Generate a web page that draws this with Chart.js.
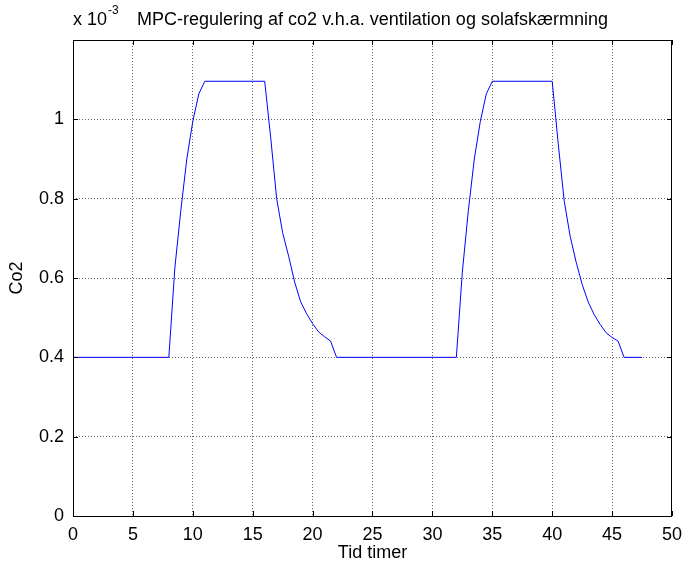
<!DOCTYPE html>
<html>
<head>
<meta charset="utf-8">
<script src="https://cdn.jsdelivr.net/npm/chart.js@4.4.0/dist/chart.umd.min.js"></script>
<style>
  html, body { margin: 0; padding: 0; background: #fff; }
  #wrap { width: 690px; height: 569px; position: relative; }
</style>
</head>
<body>
<div id="wrap"><canvas id="grafico" width="690" height="569"></canvas></div>
<script>
// tid i timer og co2-niveau (enhed: 10^-3)
const timer = [0, 8, 8.5, 9, 9.5, 10, 10.5, 11, 16, 16.5, 17, 17.5, 18, 18.5, 19, 19.5, 20, 20.5, 21, 21.5, 22,
               32, 32.5, 33, 33.5, 34, 34.5, 35, 40, 40.5, 41, 41.5, 42, 42.5, 43, 43.5, 44, 44.5, 45, 45.5, 46, 47.5];
const co2 = [0.400, 0.400, 0.625, 0.770, 0.900, 0.995, 1.064, 1.096, 1.096, 0.955, 0.800, 0.714, 0.655, 0.590, 0.540, 0.510, 0.485, 0.464, 0.452, 0.441, 0.400,
             0.400, 0.615, 0.770, 0.900, 0.995, 1.064, 1.096, 1.096, 0.940, 0.795, 0.705, 0.640, 0.584, 0.540, 0.508, 0.483, 0.462, 0.450, 0.441, 0.400, 0.400];
const xTicks = [0, 5, 10, 15, 20, 25, 30, 35, 40, 45, 50];
const yTicks = [0, 0.2, 0.4, 0.6, 0.8, 1];

const titel = 'MPC-regulering af co2 v.h.a. ventilation og solafskærmning';
const skrift = '"Liberation Sans", Arial, sans-serif';

const punkter = timer.map(function (t, i) { return { x: t, y: co2[i] * 1e-3 }; });

// ramme, indadvendte ticks, titel og eksponent
const rammePlugin = {
    id: 'ramme',
    afterDraw: function (chart) {
        const ctx = chart.ctx;
        const a = chart.chartArea;
        const sx = chart.scales.x;
        const sy = chart.scales.y;
        ctx.save();
        ctx.strokeStyle = '#000';
        ctx.lineWidth = 1;
        ctx.beginPath();
        xTicks.forEach(function (v) {
            const px = Math.round(sx.getPixelForValue(v)) + 0.5;
            ctx.moveTo(px, a.bottom); ctx.lineTo(px, a.bottom - 5);
            ctx.moveTo(px, a.top); ctx.lineTo(px, a.top + 5);
        });
        yTicks.forEach(function (v) {
            const py = Math.round(sy.getPixelForValue(v * 1e-3)) + 0.5;
            ctx.moveTo(a.left, py); ctx.lineTo(a.left + 5, py);
            ctx.moveTo(a.right, py); ctx.lineTo(a.right - 5, py);
        });
        ctx.stroke();
        ctx.strokeRect(Math.round(a.left) + 0.5, Math.round(a.top) + 0.5,
                       Math.round(a.right - a.left) - 1, Math.round(a.bottom - a.top));

        ctx.fillStyle = '#000';
        ctx.textBaseline = 'alphabetic';
        ctx.textAlign = 'center';
        ctx.font = '18px ' + skrift;
        ctx.fillText(titel, (a.left + a.right) / 2, 25);

        ctx.textAlign = 'left';
        ctx.font = '18px ' + skrift;
        ctx.fillText('x 10', a.left, 25);
        const w = ctx.measureText('x 10').width;
        ctx.font = '12px ' + skrift;
        ctx.fillText('-3', a.left + w + 1, 14);
        ctx.restore();
    }
};

const ctx = document.getElementById('grafico').getContext('2d');
const myChart = new Chart(ctx, {
    type: 'line',
    data: {
        datasets: [{
            data: punkter,
            borderColor: '#0000ff',
            borderWidth: 1,
            pointRadius: 0,
            tension: 0,
            fill: false
        }]
    },
    options: {
        responsive: false,
        animation: false,
        layout: { padding: { top: 40, right: 10, left: 0, bottom: 0 } },
        plugins: { legend: { display: false }, tooltip: { enabled: false } },
        scales: {
            x: {
                type: 'linear',
                min: 0,
                max: 50,
                afterFit: function (s) { s.height = 53; },
                afterBuildTicks: function (s) { s.ticks = xTicks.map(function (v) { return { value: v }; }); },
                grid: { color: '#666', borderDash: [1, 2], drawTicks: false },
                border: { display: false, dash: [1, 2] },
                ticks: { color: '#000', font: { family: skrift, size: 18 }, padding: 8, maxRotation: 0 },
                title: { display: true, text: 'Tid timer', color: '#000', font: { family: skrift, size: 18 }, padding: { top: 0, bottom: 5 } }
            },
            y: {
                min: 0,
                max: 1.2e-3,
                afterFit: function (s) { s.width = 73; },
                afterBuildTicks: function (s) { s.ticks = yTicks.map(function (v) { return { value: v * 1e-3 }; }); },
                grid: { color: '#666', borderDash: [1, 2], drawTicks: false },
                border: { display: false, dash: [1, 2] },
                ticks: {
                    color: '#000',
                    font: { family: skrift, size: 18 },
                    padding: 9,
                    callback: function (v) { return String(Math.round(v * 1e4) / 10); }
                },
                title: { display: true, text: 'Co2', color: '#000', font: { family: skrift, size: 18 }, padding: { top: 6, bottom: 0 } }
            }
        }
    },
    plugins: [rammePlugin]
});
</script>
</body>
</html>
